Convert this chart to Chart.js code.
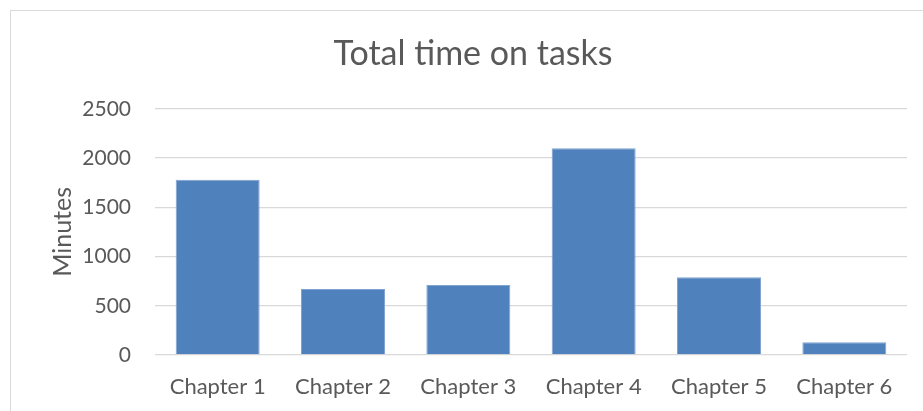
<!DOCTYPE html>
<html>
<head>
<meta charset="utf-8">
<script src="https://cdn.jsdelivr.net/npm/chart.js@4/dist/chart.umd.min.js"></script>
<style>
  html, body { margin: 0; padding: 0; background: #fff; }
  #frame {
    position: absolute; left: 10px; top: 10px; width: 930px; height: 420px;
    border-left: 1px solid #d9d9d9; border-top: 1px solid #d9d9d9;
  }
  #wrap { position: absolute; left: 0; top: 0; width: 923px; height: 411px; }
</style>
</head>
<body>
<div id="frame"></div>
<div id="wrap"><canvas id="chart"></canvas></div>
<script>
// ── Data ───────────────────────────────────────────────────────────
const chapters = ['Chapter 1', 'Chapter 2', 'Chapter 3', 'Chapter 4', 'Chapter 5', 'Chapter 6'];
const minutes = [1780, 670, 710, 2100, 790, 130];
const yTicks = [0, 500, 1000, 1500, 2000, 2500];

const TEXT = '#595959';
const FONT = 'Lato, "Open Sans", sans-serif';

new Chart(document.getElementById('chart'), {
  type: 'bar',
  data: {
    labels: chapters,
    datasets: [{
      label: 'Minutes',
      data: minutes,
      backgroundColor: '#4f81bd',
      borderColor: '#7fa3d2',
      borderWidth: 1,
      categoryPercentage: 1,
      barPercentage: 0.67,
    }],
  },
  options: {
    responsive: true,
    maintainAspectRatio: false,
    animation: false,
    // left padding keeps the title centred on the frame like the original
    layout: { padding: { left: 39, right: 16, top: 0, bottom: 0 } },
    plugins: {
      legend: { display: false },
      tooltip: { enabled: false },
      title: {
        display: true,
        text: 'Total time on tasks',
        color: TEXT,
        font: { family: FONT, size: 34, weight: 'normal' },
        padding: { top: 34, bottom: 34 },
      },
    },
    scales: {
      x: {
        grid: { display: false },
        border: { display: false },
        ticks: { color: TEXT, font: { family: FONT, size: 22 }, padding: 11 },
        afterFit: function (scale) { scale.height = 56; },
      },
      y: {
        min: 0,
        max: 2500,
        afterBuildTicks: function (scale) {
          scale.ticks = yTicks.map(function (v) { return { value: v }; });
        },
        grid: { color: '#d9d9d9', lineWidth: 1.3, drawTicks: false },
        border: { display: false },
        ticks: {
          color: TEXT,
          font: { family: FONT, size: 21 },
          padding: 24,
          callback: function (v) { return String(v); },
        },
        title: {
          display: true,
          text: 'Minutes',
          color: TEXT,
          font: { family: FONT, size: 25 },
          padding: { top: 9, bottom: 0 },
        },
        afterFit: function (scale) { scale.width = 116; },
      },
    },
  },
});
</script>
</body>
</html>
